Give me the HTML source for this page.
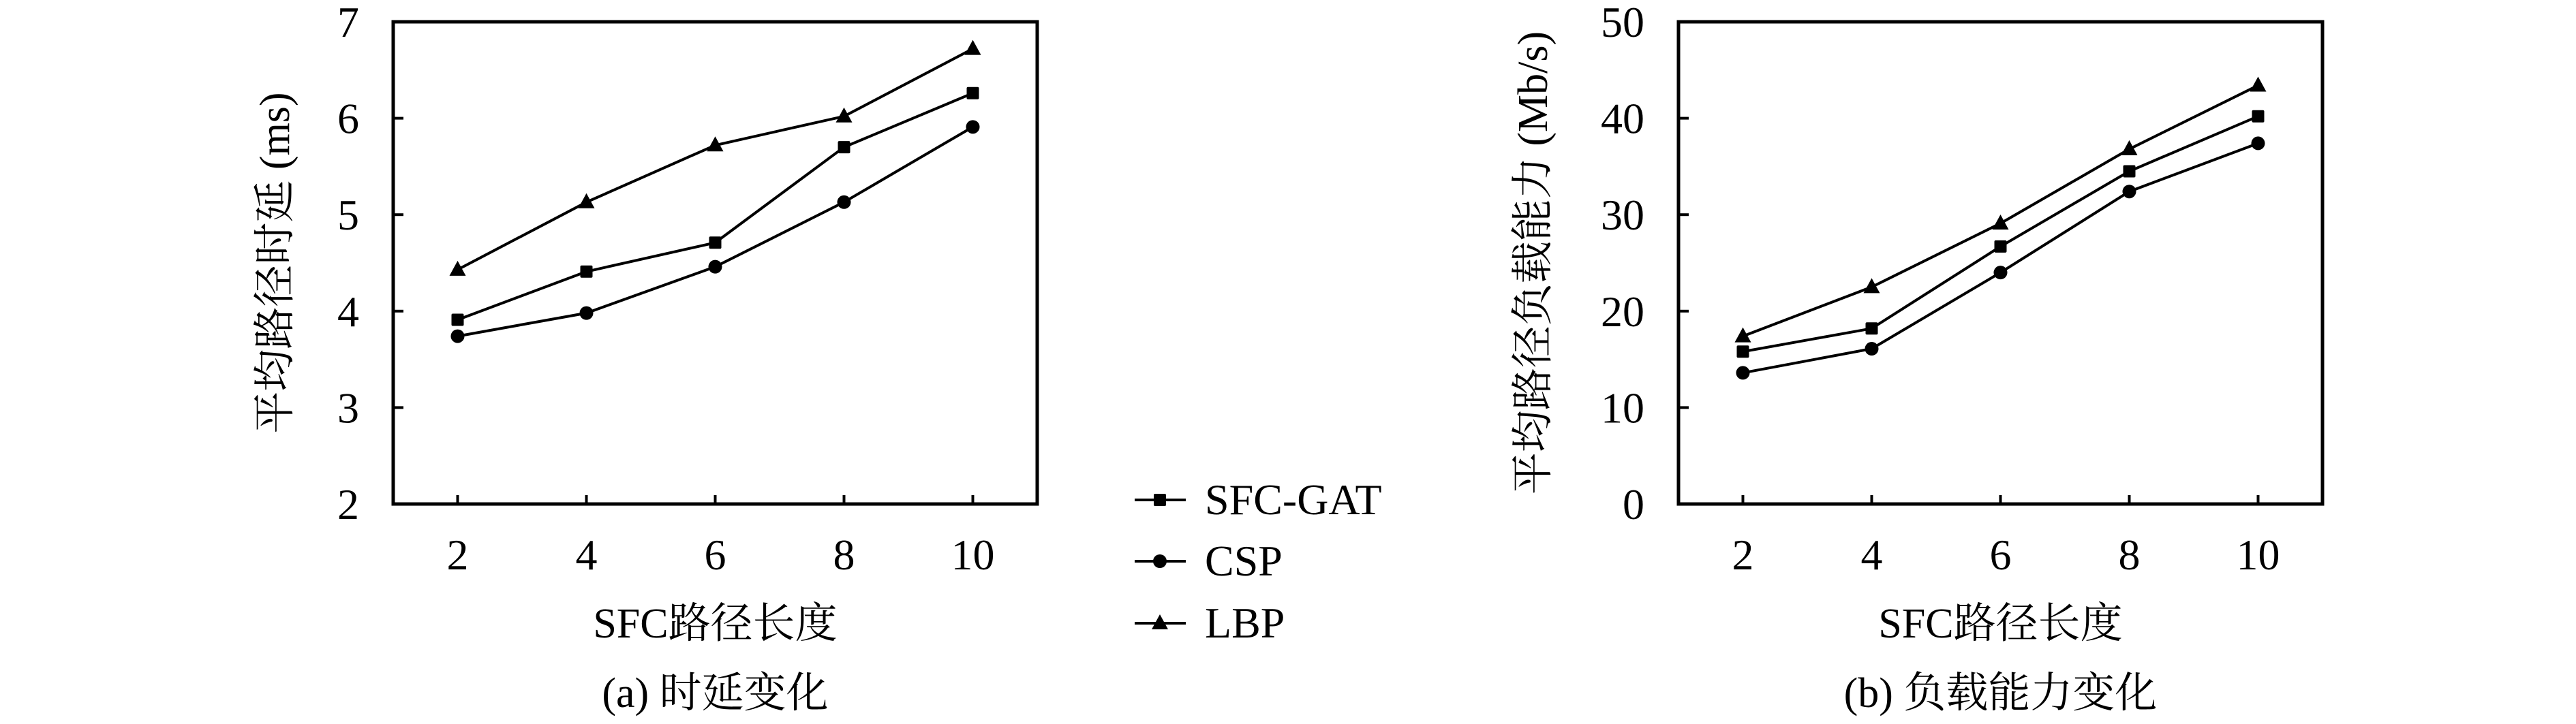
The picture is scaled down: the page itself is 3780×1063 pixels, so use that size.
<!DOCTYPE html>
<html><head><meta charset="utf-8"><style>
html,body{margin:0;padding:0;background:#fff;}
svg{display:block;}
text{font-family:"Liberation Serif","Noto Serif CJK SC","Noto Sans CJK SC",serif;fill:#000;}
</style></head><body>
<svg id="fig" width="3780" height="1063" viewBox="0 0 3780 1063" xmlns="http://www.w3.org/2000/svg"></svg>
<script>
const categories = [2, 4, 6, 8, 10];
const latencyGAT = [3.91, 4.41, 4.71, 5.70, 6.26];
const latencyCSP = [3.74, 3.98, 4.46, 5.13, 5.91];
const latencyLBP = [4.43, 5.13, 5.72, 6.02, 6.72];
const loadGAT = [15.8, 18.2, 26.7, 34.5, 40.2];
const loadCSP = [13.6, 16.1, 24.0, 32.4, 37.4];
const loadLBP = [17.4, 22.5, 29.1, 36.8, 43.4];
const yTicksA = [2, 3, 4, 5, 6, 7];
const yTicksB = [0, 10, 20, 30, 40, 50];
const seriesNames = ["SFC-GAT", "CSP", "LBP"];

const NS = "http://www.w3.org/2000/svg";
const svg = document.getElementById("fig");
function mk(tag, attrs, parent) {
  const e = document.createElementNS(NS, tag);
  for (const k in attrs) e.setAttribute(k, attrs[k]);
  (parent || svg).appendChild(e);
  return e;
}
function marker(g, kind, x, y) {
  let m;
  if (kind === "square") m = mk("rect", {x: x - 9, y: y - 9, width: 18, height: 18, rx: 2, fill: "#000"}, g);
  else if (kind === "circle") m = mk("circle", {cx: x, cy: y, r: 10, fill: "#000"}, g);
  else m = mk("polygon", {points: (x) + "," + (y - 13) + " " + (x - 12) + "," + (y + 9) + " " + (x + 12) + "," + (y + 9), fill: "#000"}, g);
  return m;
}
function drawChart(cfg) {
  const L = cfg.left, R = cfg.left + 945, T = 32, B = 740;
  const xs = v => L + (v - 1) / 10 * (R - L);
  const ys = v => B - (v - cfg.ymin) / (cfg.ymax - cfg.ymin) * (B - T);
  const g = mk("g", {});
  
  
  const frame = mk("rect", {x: L, y: T, width: R - L, height: B - T, fill: "none", stroke: "#000", "stroke-width": 5}, g);
  
  
  cfg.yticks.forEach(v => {
    const y = ys(v);
    const t = mk("line", {x1: L, x2: L + 15, y1: y, y2: y, stroke: "#000", "stroke-width": 4}, g);
    
    
    const lb = mk("text", {x: cfg.labelRight, y: y + 22, "text-anchor": "end", "font-size": 64}, g);
    lb.textContent = v;
    
    
  });
  categories.forEach(c => {
    const x = xs(c);
    const t = mk("line", {x1: x, x2: x, y1: B, y2: B - 13, stroke: "#000", "stroke-width": 4}, g);
    
    
    const lb = mk("text", {x: x, y: 836, "text-anchor": "middle", "font-size": 64}, g);
    lb.textContent = c;
    
    
  });
  const kinds = ["square", "circle", "triangle"];
  cfg.series.forEach((s, i) => {
    const pts = categories.map((c, j) => xs(c) + "," + ys(s[j])).join(" ");
    const line = mk("polyline", {points: pts, fill: "none", stroke: "#000", "stroke-width": 4}, g);
    
    
    categories.forEach((c, j) => {
      const m = marker(g, kinds[i], xs(c), ys(s[j]));
      
      
    });
  });
  const xt = mk("text", {x: (L + R) / 2, y: 936, "text-anchor": "middle", "font-size": 62}, g);
  xt.textContent = "SFC路径长度";
  
  
  const cap = mk("text", {x: (L + R) / 2, y: 1038, "text-anchor": "middle", "font-size": 62}, g);
  cap.textContent = cfg.caption;
  
  
  const yt = mk("text", {x: 0, y: 0, "text-anchor": "middle", "font-size": 62, transform: "translate(" + cfg.ytitleX + ",386) rotate(-90)"}, g);
  yt.textContent = cfg.ytitle;
  
  
}
drawChart({name: "latency-chart", left: 577, ymin: 2, ymax: 7, yticks: yTicksA, labelRight: 527,
  series: [latencyGAT, latencyCSP, latencyLBP], caption: "(a) 时延变化", ytitle: "平均路径时延 (ms)", ytitleX: 424});
drawChart({name: "load-chart", left: 2463, ymin: 0, ymax: 50, yticks: yTicksB, labelRight: 2413,
  series: [loadGAT, loadCSP, loadLBP], caption: "(b) 负载能力变化", ytitle: "平均路径负载能力 (Mb/s)", ytitleX: 2270});

// legend
const lg = mk("g", {});


const kinds = ["square", "circle", "triangle"];
const legendY = [734, 824, 915];
seriesNames.forEach((n, i) => {
  const y = legendY[i];
  const ln = mk("line", {x1: 1665, x2: 1740, y1: y, y2: y, stroke: "#000", "stroke-width": 4}, lg);
  
  
  const m = marker(lg, kinds[i], 1702, y);
  
  
  const t = mk("text", {x: 1768, y: y + 21, "font-size": 64}, lg);
  t.textContent = n;
  
  
});
</script>
</body></html>
